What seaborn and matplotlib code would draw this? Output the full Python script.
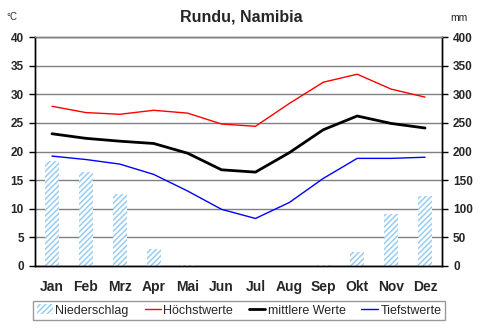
import matplotlib
matplotlib.use("Agg")
import matplotlib.pyplot as plt
import seaborn as sns
import pandas as pd
from matplotlib.patches import Patch
from matplotlib.lines import Line2D

months = ["Jan", "Feb", "Mrz", "Apr", "Mai", "Jun", "Jul", "Aug", "Sep", "Okt", "Nov", "Dez"]
t_max = [27.9, 26.8, 26.5, 27.2, 26.7, 24.8, 24.4, 28.4, 32.1, 33.5, 30.9, 29.5]
t_mean = [23.1, 22.3, 21.8, 21.4, 19.7, 16.8, 16.4, 19.8, 23.8, 26.2, 24.9, 24.1]
t_min = [19.2, 18.6, 17.8, 16.0, 13.1, 9.9, 8.3, 11.1, 15.3, 18.8, 18.8, 19.0]
precip = [183, 164, 126, 30, 2, 0, 0, 0, 1, 24, 91, 122]

sns.set_style("white")
plt.rcParams["font.family"] = ["Liberation Sans", "DejaVu Sans"]
plt.rcParams["hatch.color"] = "#99ccf2"
plt.rcParams["hatch.linewidth"] = 1.1

df = pd.DataFrame({"Monat": months, "max": t_max, "mean": t_mean,
                   "min": t_min, "mm": precip})

fig = plt.figure(figsize=(4.82, 3.29), dpi=100)
ax = fig.add_axes([35 / 482, 63 / 329, 407 / 482, 229 / 329])
ax2 = ax.twinx()

# precipitation bars on the right-hand axis, grid drawn underneath
ax2.set_ylim(0, 400)
ax2.set_yticks(range(0, 401, 50))
ax2.grid(axis="y", color="#808080", linewidth=1)
ax2.set_axisbelow(True)
sns.barplot(data=df, x="Monat", y="mm", ax=ax2, width=0.42, color="white",
            edgecolor="none", hatch="//////", saturation=1)
for p in ax2.patches:
    p.set_edgecolor("#99ccf2")
    p.set_linewidth(0)

# temperature lines on the left-hand axis, in front of the bars
ax.set_zorder(ax2.get_zorder() + 1)
ax.patch.set_visible(False)
sns.lineplot(data=df, x="Monat", y="max", ax=ax, color="#ff0000", linewidth=1, sort=False)
sns.lineplot(data=df, x="Monat", y="mean", ax=ax, color="black", linewidth=2.0, sort=False)
sns.lineplot(data=df, x="Monat", y="min", ax=ax, color="#0000ff", linewidth=1, sort=False)

ax.set_ylim(0, 40)
ax.set_yticks(range(0, 41, 5))
for a in (ax, ax2):
    a.set_xlabel("")
    a.set_ylabel("")
    a.set_xlim(-0.5, 11.5)

ax.set_xticks(range(12))
ax.set_xticklabels(months, fontsize=10, fontweight="bold")
ax.set_xticks([i - 0.5 for i in range(13)], minor=True)
ax.tick_params(axis="x", which="major", length=0, pad=10)
ax.tick_params(axis="x", which="minor", length=4, width=1, direction="out", color="black")
ax.tick_params(axis="y", length=4, width=1, direction="out", color="black", labelsize=8.5, pad=4)
ax2.tick_params(axis="y", length=4, width=1, direction="out", color="black", labelsize=8.5, pad=4)
for lab in ax.get_yticklabels() + ax2.get_yticklabels():
    lab.set_fontweight("bold")
ax.tick_params(axis="y", left=True)
ax2.tick_params(axis="y", right=True)

for a in (ax, ax2):
    for side in ("left", "right", "bottom"):
        a.spines[side].set_color("black")
        a.spines[side].set_linewidth(1)
    a.spines["top"].set_color("#808080")
    a.spines["top"].set_linewidth(1)

fig.text(0.5, 1 - 17 / 329, "Rundu, Namibia", ha="center", va="center",
         fontsize=11.5, fontweight="bold")
fig.text(12 / 482, 1 - 17 / 329, "°C", ha="center", va="center", fontsize=7)
fig.text(459 / 482, 1 - 18 / 329, "mm", ha="center", va="center", fontsize=7.5)

handles = [
    Patch(facecolor="white", edgecolor="#99ccf2", hatch="//////", linewidth=0),
    Line2D([], [], color="#ff0000", linewidth=1),
    Line2D([], [], color="black", linewidth=2.0),
    Line2D([], [], color="#0000ff", linewidth=1),
]
labels = ["Niederschlag", "Höchstwerte", "mittlere Werte", "Tiefstwerte"]
leg = fig.legend(handles, labels, loc="center", ncol=4, mode="expand",
                 bbox_to_anchor=(33 / 482, 8 / 329, 412 / 482, 21 / 329),
                 frameon=True, fancybox=False, fontsize=9, handlelength=1.3,
                 handleheight=0.8, handletextpad=0.2, columnspacing=1.2,
                 borderpad=0.3, borderaxespad=0)
leg.get_frame().set_edgecolor("#808080")
leg.get_frame().set_linewidth(1)

fig.savefig("out.png", dpi=100)
